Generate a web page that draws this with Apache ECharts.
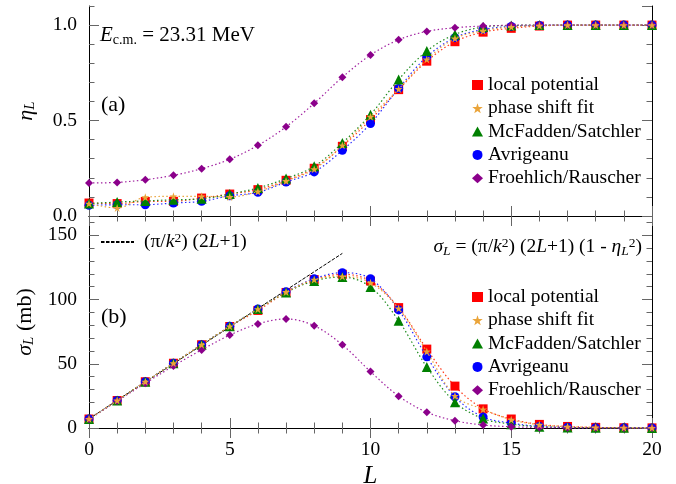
<!DOCTYPE html>
<html><head><meta charset="utf-8">
<script src="https://cdn.jsdelivr.net/npm/echarts@6/dist/echarts.min.js"></script>
<style>html,body{margin:0;padding:0;background:#fff}#c{width:676px;height:484px}</style>
</head><body><div id="c"></div>
<script>
// ---- data ----
const Lvals = [0,1,2,3,4,5,6,7,8,9,10,11,12,13,14,15,16,17,18,19,20];

const etaLocal = [0.068,0.065,0.076,0.077,0.094,0.115,0.138,0.187,0.250,0.365,0.505,0.662,0.811,0.913,0.963,0.983,0.995,1.0,1.0,1.0,1.0];
const etaPhase = [0.065,0.042,0.098,0.103,0.103,0.100,0.128,0.183,0.245,0.370,0.520,0.665,0.820,0.930,0.970,0.990,0.997,1.0,1.0,1.0,1.0];
const etaMcF   = [0.065,0.073,0.079,0.085,0.090,0.115,0.147,0.196,0.260,0.383,0.531,0.715,0.864,0.951,0.990,0.998,1.0,1.0,1.0,1.0,1.0];
const etaAvr   = [0.056,0.059,0.059,0.068,0.077,0.106,0.124,0.178,0.231,0.344,0.484,0.668,0.834,0.934,0.977,0.993,0.998,1.0,1.0,1.0,1.0];
const etaFR    = [0.173,0.176,0.190,0.213,0.248,0.297,0.370,0.467,0.590,0.727,0.843,0.923,0.967,0.986,0.995,0.999,1.0,1.0,1.0,1.0,1.0];

const sigLocal = [7.0,21.4,36.0,50.4,64.8,79.0,91.5,105.5,115.5,119.6,114.4,93.7,61.4,32.6,14.9,7.0,2.8,1.2,0.5,0.2,0.1];
const sigPhase = [7.0,21.4,36.0,50.4,64.8,79.1,92.5,105.8,115.5,118.0,113.0,93.0,59.5,25.0,14.5,6.5,2.5,1.0,0.4,0.2,0.1];
const sigMcF   = [7.0,21.4,36.0,50.4,64.8,79.1,92.7,105.5,114.5,117.5,109.7,83.5,47.5,20.1,7.3,3.0,1.0,0.4,0.2,0.1,0.0];
const sigAvr   = [7.0,21.4,36.0,50.4,64.8,79.1,92.7,106.0,116.2,120.9,116.2,91.9,55.4,24.3,8.6,3.8,1.2,0.5,0.2,0.1,0.0];
const sigFR    = [6.8,21.0,34.8,48.3,60.8,72.3,81.0,84.9,79.6,64.7,43.9,24.8,12.3,5.7,2.3,1.0,0.4,0.2,0.1,0.0,0.0];

const limitL = [0, 9];
const limitSigma = [7.15, 135.9];

const names = ['local potential','phase shift fit','McFadden/Satchler','Avrigeanu','Froehlich/Rauscher'];
const xTicksInterval = 5;
const etaTickInterval = 0.5;
const sigTickInterval = 50;

// ---- styling ----
const FONT = '"Liberation Serif", "Times New Roman", "DejaVu Serif", serif';
const STAR = 'path://M50,0 L61.8,35.5 L99,35.5 L69,57.5 L80.5,93 L50,71 L19.5,93 L31,57.5 L1,35.5 L38.2,35.5 Z';
const styles = [
  {symbol:'rect', size:9, color:'#ff0000', line:'#ff3a1a', z:2},
  {symbol:STAR, size:8, color:'#eaa43a', line:'#eaa43a', z:6},
  {symbol:'triangle', size:10, color:'#008000', line:'#1e8c1e', z:4},
  {symbol:'circle', size:9, color:'#0000ff', line:'#2a2aff', z:3},
  {symbol:'diamond', size:8, color:'#8b008b', line:'#a020a0', z:5}
];
const TICK = '#666';

function pairs(xs, ys){ return xs.map((x,i)=>[x, ys[i]]); }

function mk(idx, ys, xi, yi){
  const s = styles[idx];
  return {
    type:'line', name:names[idx], data:pairs(Lvals, ys),
    xAxisIndex:xi, yAxisIndex:yi,
    symbol:s.symbol, symbolSize:s.size, showSymbol:true, smooth:0.35,
    itemStyle:{color:s.color},
    lineStyle:{color:s.line, width:1.2, type:[1.5,2.5]},
    z:s.z, animation:false, silent:true, clip:false
  };
}

function xAx(grid, pos, labels){
  return {
    type:'value', gridIndex:grid, position:pos, min:0, max:20, interval:xTicksInterval,
    axisLine:{show:true, lineStyle:{color:'#000', width:1}},
    axisTick:{show:true, inside:true, length:10, lineStyle:{color:TICK}},
    minorTick:{show:true, splitNumber:5, length:5.5, lineStyle:{color:TICK}},
    splitLine:{show:false}, minorSplitLine:{show:false},
    axisLabel:{show:labels, fontFamily:FONT, fontSize:19.5, color:'#000', margin:12},
    name: labels ? 'L' : '', nameLocation:'middle', nameGap:36,
    nameTextStyle:{fontFamily:FONT, fontSize:25, fontStyle:'italic', color:'#000'}
  };
}
function yAx(grid, pos, max, interval, major, labels, fmt, name){
  return {
    type:'value', gridIndex:grid, position:pos, min:0, max:max, interval:interval,
    axisLine:{show:major, lineStyle:{color:'#000', width:1}},
    axisTick:{show:true, inside:true, length: major ? 10 : 5.5, lineStyle:{color:TICK}},
    splitLine:{show:false},
    axisLabel:{show:labels, fontFamily:FONT, fontSize:19.5, color:'#000', margin:12,
      showMaxLabel:false, formatter:fmt},
    name: name || '', nameLocation:'middle', nameGap:51,
    nameTextStyle:{fontFamily:FONT, fontSize:22, color:'#000',
      rich:{
        n:{fontFamily:FONT, fontSize:22, lineHeight:24, color:'#000'},
        i:{fontFamily:FONT, fontSize:22, fontStyle:'italic', lineHeight:24, color:'#000'},
        sub:{fontFamily:FONT, fontSize:15, fontStyle:'italic', lineHeight:12, verticalAlign:'bottom', color:'#000'}
      }}
  };
}

const rich19 = {
  n:{fontFamily:FONT, fontSize:19.5, lineHeight:22, color:'#000'},
  i:{fontFamily:FONT, fontSize:19.5, fontStyle:'italic', lineHeight:22, color:'#000'},
  sub:{fontFamily:FONT, fontSize:13.5, fontStyle:'italic', lineHeight:11, verticalAlign:'bottom', color:'#000'},
  sup:{fontFamily:FONT, fontSize:13.5, lineHeight:13, verticalAlign:'top', color:'#000'}
};

const legendItems = names.map((n,i)=>({name:n, icon:styles[i].symbol}));
function mkLegend(top){
  return {
    data:legendItems, orient:'vertical', left:472, top:top, padding:0,
    itemWidth:11, itemHeight:10, itemGap:3.3, selectedMode:false,
    textStyle:{fontFamily:FONT, fontSize:19.5, color:'#000', lineHeight:20}
  };
}

const option = {
  backgroundColor:'#fff',
  animation:false,
  textStyle:{fontFamily:FONT},
  grid:[
    {left:89, width:563, top:6, height:210, containLabel:false, outerBoundsMode:'none'},
    {left:89, width:563, top:216, height:212, containLabel:false, outerBoundsMode:'none'}
  ],
  xAxis:[ xAx(0,'bottom',false), xAx(0,'top',false), xAx(1,'bottom',true), xAx(1,'top',false) ],
  yAxis:[
    yAx(0,'left',1.1,etaTickInterval,true,true,v=>v.toFixed(1),'{i|η}{sub|L}'),
    yAx(0,'left',1.1,0.1,false,false),
    yAx(0,'right',1.1,etaTickInterval,true,false),
    yAx(0,'right',1.1,0.1,false,false),
    yAx(1,'left',165,sigTickInterval,true,true,v=>String(v),'{i|σ}{sub|L}{n| (mb)}'),
    yAx(1,'left',165,10,false,false),
    yAx(1,'right',165,sigTickInterval,true,false),
    yAx(1,'right',165,10,false,false)
  ],
  legend:[
    mkLegend(75),
    mkLegend(287),
    {
      data:[{name:'(π/k²) (2L+1)', itemStyle:{opacity:0}}], left:100, top:231, padding:0, itemWidth:33, itemHeight:10,
      selectedMode:false,
      formatter:()=>'{n|(π/}{i|k}{sup|2}{n|) (2}{i|L}{n|+1)}',
      textStyle:{fontFamily:FONT, fontSize:19.5, color:'#000', padding:[0,0,0,5], rich:rich19}
    }
  ],
  graphic:[
    {type:'text', left:100, top:25, silent:true,
      style:{text:'{i|E}{sub|c.m.}{n| = 23.31 MeV}', rich:{
        n:{fontFamily:FONT, fontSize:21, lineHeight:24, color:'#000'},
        i:{fontFamily:FONT, fontSize:21, fontStyle:'italic', lineHeight:24, color:'#000'},
        sub:{fontFamily:FONT, fontSize:14, lineHeight:12, verticalAlign:'bottom', color:'#000'}
      }}},
    {type:'text', left:101, top:94, silent:true,
      style:{text:'(a)', fontFamily:FONT, fontSize:22, fill:'#000'}},
    {type:'text', left:101, top:306, silent:true,
      style:{text:'(b)', fontFamily:FONT, fontSize:22, fill:'#000'}},
    {type:'text', right:34, top:236, silent:true,
      style:{text:'{i|σ}{sub|L}{n| = (π/}{i|k}{sup|2}{n|) (2}{i|L}{n|+1) (1 - }{i|η}{sub|L}{sup|2}{n|)}', rich:rich19}}
  ],
  series:[
    mk(0, etaLocal, 0, 0), mk(1, etaPhase, 0, 0), mk(2, etaMcF, 0, 0), mk(3, etaAvr, 0, 0), mk(4, etaFR, 0, 0),
    {type:'line', name:'(π/k²) (2L+1)', data:pairs(limitL, limitSigma), xAxisIndex:2, yAxisIndex:4,
      symbol:'none', showSymbol:false, itemStyle:{color:'#000'},
      lineStyle:{color:'#000', width:1, type:[3.5,1.5]}, z:1, silent:true, animation:false},
    mk(0, sigLocal, 2, 4), mk(1, sigPhase, 2, 4), mk(2, sigMcF, 2, 4), mk(3, sigAvr, 2, 4), mk(4, sigFR, 2, 4)
  ]
};
const chart = echarts.init(document.getElementById('c'), null, {renderer:'canvas'});
chart.setOption(option);
</script>
</body></html>
